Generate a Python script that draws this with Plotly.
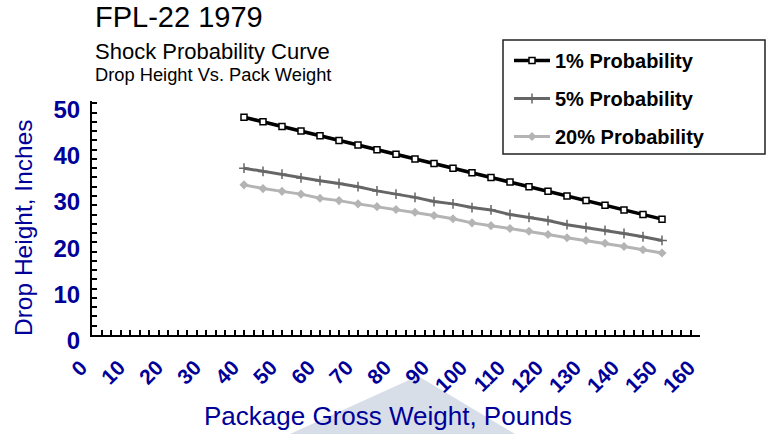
"""
FPL-22 1979 충격 확률 곡선
- 포장 총중량 대비 낙하 높이 (1% / 5% / 20% 확률)
"""

import plotly.graph_objects as go

# 데이터
weights = [40, 45, 50, 55, 60, 65, 70, 75, 80, 85, 90, 95,
           100, 105, 110, 115, 120, 125, 130, 135, 140, 145, 150]
drop_1pct = [47, 46, 45, 44, 43, 42, 41, 40, 39, 38, 37, 36,
             35, 34, 33, 32, 31, 30, 29, 28, 27, 26, 25]
drop_5pct = [36.0, 35.3, 34.7, 33.9, 33.3, 32.7, 32.0, 31.1, 30.4, 29.7, 28.8, 28.3,
             27.5, 27.0, 26.0, 25.4, 24.7, 23.8, 23.2, 22.6, 21.9, 21.2, 20.4]
drop_20pct = [32.4, 31.6, 31.0, 30.4, 29.5, 29.0, 28.3, 27.7, 27.1, 26.5, 25.8, 25.1,
              24.2, 23.6, 23.0, 22.4, 21.7, 21.0, 20.4, 19.8, 19.1, 18.4, 17.7]
series_names = ["1% Probability", "5% Probability", "20% Probability"]

FONT = "Liberation Sans, Arial, sans-serif"
NAVY = "#000099"

W, H = 771, 434
L, R, T, B = 92, 71, 101, 99
PW, PH = W - L - R, H - T - B


def px(x):
    """픽셀 x → paper 좌표"""
    return (x - L) / PW


def py(y):
    """픽셀 y → paper 좌표"""
    return (H - B - y) / PH


fig = go.Figure()

fig.add_trace(go.Scatter(
    x=weights, y=drop_1pct, name=series_names[0], mode="lines+markers",
    line=dict(color="black", width=3.5),
    marker=dict(symbol="square", size=6, color="white", line=dict(color="black", width=1.5)),
    legendgroup="a",
))
fig.add_trace(go.Scatter(
    x=weights, y=drop_5pct, name=series_names[1], mode="lines+markers",
    line=dict(color="#666666", width=3),
    marker=dict(symbol="cross-thin", size=7, color="#666666", line=dict(color="#666666", width=1.5)),
    legendgroup="b",
))
fig.add_trace(go.Scatter(
    x=weights, y=drop_20pct, name=series_names[2], mode="lines+markers",
    line=dict(color="#b4b4b4", width=3),
    marker=dict(symbol="diamond", size=7, color="#b4b4b4"),
    legendgroup="c",
))

# 제목 / 축 제목 (annotation)
texts = [
    dict(text="FPL-22 1979", x=px(93), y=py(17), size=29),
    dict(text="Shock Probability Curve", x=px(93), y=py(51), size=22),
    dict(text="Drop Height Vs. Pack Weight", x=px(93), y=py(75), size=18.3),
]
annotations = []
for t in texts:
    annotations.append(dict(
        text=t["text"], x=t["x"], y=t["y"], xref="paper", yref="paper",
        xanchor="left", yanchor="middle", showarrow=False,
        font=dict(family=FONT, size=t["size"], color="black"),
    ))
annotations.append(dict(
    text="Package Gross Weight, Pounds", x=px(388), y=py(416), xref="paper", yref="paper",
    xanchor="center", yanchor="middle", showarrow=False,
    font=dict(family=FONT, size=26, color=NAVY),
))
annotations.append(dict(
    text="Drop Height, Inches", x=px(23), y=py(228), xref="paper", yref="paper",
    xanchor="center", yanchor="middle", showarrow=False, textangle=-90,
    font=dict(family=FONT, size=24.5, color=NAVY),
))

shapes = [
    # 배경 워터마크 조각
    dict(type="path", xref="paper", yref="paper", layer="below",
         path=f"M {px(290)} {py(434)} L {px(418)} {py(376)} L {px(515)} {py(434)} Z",
         fillcolor="#d7dee8", line=dict(width=0)),
    # 범례 테두리
    dict(type="rect", xref="paper", yref="paper",
         x0=px(503), x1=px(765), y0=py(154), y1=py(40),
         line=dict(color="#222222", width=1.5), fillcolor="rgba(0,0,0,0)"),
]

fig.update_layout(
    width=W, height=H,
    margin=dict(l=L, r=R, t=T, b=B),
    plot_bgcolor="white", paper_bgcolor="white",
    font=dict(family=FONT),
    showlegend=True,
    legend=dict(
        x=px(509), y=py(41), xanchor="left", yanchor="top",
        bgcolor="rgba(0,0,0,0)", borderwidth=0,
        traceorder="grouped", tracegroupgap=9, itemwidth=36,
        font=dict(family=FONT, size=20, color="black", weight="bold"),
    ),
    xaxis=dict(
        range=[0, 160], dtick=10, tick0=0,
        showline=True, linecolor="black", linewidth=2,
        ticks="inside", ticklen=5, tickcolor="black", tickwidth=1.5,
        minor=dict(dtick=2.5, ticks="inside", ticklen=5, tickcolor="black", tickwidth=1.5),
        showgrid=False, zeroline=False, tickangle=-45,
        ticklabelstandoff=10, ticklabelshift=-11,
        tickfont=dict(family=FONT, size=21, color=NAVY, weight="bold"),
    ),
    yaxis=dict(
        range=[0, 50.5], tickvals=[0, 10, 20, 30, 40, 50],
        showline=True, linecolor="black", linewidth=2,
        ticks="inside", ticklen=5, tickcolor="black", tickwidth=1.5,
        minor=dict(dtick=2, ticks="inside", ticklen=5, tickcolor="black", tickwidth=1.5),
        showgrid=False, zeroline=False, ticklabelshift=6, ticklabelstandoff=5,
        tickfont=dict(family=FONT, size=24, color=NAVY, weight="bold"),
    ),
    annotations=annotations,
    shapes=shapes,
)

# 페이지 기본 여백(8px) 제거
fig.write_html("out.html", config={"displayModeBar": False},
               post_script="document.body.style.margin='0';")
